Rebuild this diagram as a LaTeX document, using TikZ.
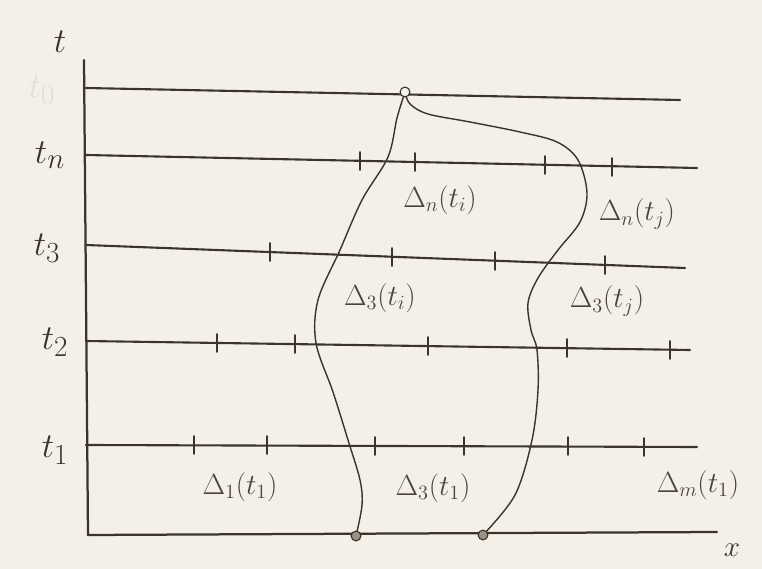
\documentclass[tikz,border=0pt]{standalone}
\usepackage{amsmath,amssymb}
\usetikzlibrary{arrows.meta,calc}
\definecolor{SketchPaper}{HTML}{F4F0E7}
\definecolor{SketchInk}{HTML}{3A342C}
\definecolor{SketchPencil}{HTML}{4A443B}
\definecolor{SketchErased}{HTML}{E4DFD5}
\definecolor{SketchDot}{HTML}{9A9285}
\tikzset{
    sketch/diagram/.style={
        draw=SketchInk,
        text=SketchInk,
        line cap=round,
        line join=round,
        every node/.style={inner sep=1pt, outer sep=0pt}
    },
    sketch/axis/.style={draw=SketchInk, line width=1.6pt},
    sketch/level/.style={draw=SketchInk, line width=1.5pt},
    sketch/tick/.style={draw=SketchInk, line width=1.3pt},
    sketch/curve/.style={draw=SketchInk, line width=1pt},
    sketch/point/.style={circle, fill=SketchPaper, draw=SketchInk,
        line width=0.8pt, inner sep=0pt, minimum size=7pt},
    sketch/timelabel/.style={font=\Huge, text=SketchInk},
    sketch/cell/.style={font=\huge, text=SketchPencil}
}

\begin{document}
\begin{tikzpicture}[sketch/diagram, x=0.025cm, y=-0.025cm]
    \fill[SketchPaper] (0,0) rectangle (762,569);
    \useasboundingbox (0,0) rectangle (762,569);

    % axes
    \draw[sketch/axis] (84,60) -- (88,535);
    \draw[sketch/axis] (88,535) -- (717,532);
    \node[sketch/timelabel] (lab-t) at (60,42) {$t$};
    \node[font=\huge] (lab-x) at (732,550) {$x$};

    % time levels
    \draw[sketch/level] (86,88) -- (680,100);
    \draw[sketch/level] (86,155) -- (697,168);
    \draw[sketch/level] (86,245) -- (685,268);
    \draw[sketch/level] (86,341) -- (690,350);
    \draw[sketch/level] (86,445) -- (697,447);
    \node[sketch/timelabel, text=SketchErased] (lab-t0) at (42,90) {$t_0$};
    \node[sketch/timelabel] (lab-tn) at (50,155) {$t_n$};
    \node[sketch/timelabel] (lab-t3) at (47,248) {$t_3$};
    \node[sketch/timelabel] (lab-t2) at (55,342) {$t_2$};
    \node[sketch/timelabel] (lab-t1) at (55,450) {$t_1$};

    % cell boundaries
    \foreach \x/\y in {360/161, 415/162, 545/165, 612/167,
                       270/252, 392/257, 495/261, 605/265,
                       217/343, 295/344, 428/346, 567/348, 670/350,
                       194/445, 267/445, 375/446, 464/446, 568/446, 644/447}
        \draw[sketch/tick] (\x,{\y-9}) -- (\x,{\y+9});

    % cells
    \node[sketch/cell] (cell-ni) at (440,200) {$\Delta_n(t_i)$};
    \node[sketch/cell] (cell-nj) at (637,214) {$\Delta_n(t_j)$};
    \node[sketch/cell] (cell-3i) at (380,298) {$\Delta_3(t_i)$};
    \node[sketch/cell] (cell-3j) at (607,301) {$\Delta_3(t_j)$};
    \node[sketch/cell] (cell-11) at (240,487) {$\Delta_1(t_1)$};
    \node[sketch/cell] (cell-31) at (433,488) {$\Delta_3(t_1)$};
    \node[sketch/cell] (cell-m1) at (698,485) {$\Delta_m(t_1)$};

    % characteristic curves
    \coordinate (apex) at (405,92);
    \coordinate (footL) at (356,536);
    \coordinate (footR) at (483,535);
    \draw[sketch/curve] plot[smooth, tension=0.55] coordinates {
        (apex) (397,118) (388,157) (362,200) (340,250) (318,300)
        (316,343) (333,392) (348,440) (360,480) (362,505) (footL)};
    \draw[sketch/curve] plot[smooth, tension=0.55] coordinates {
        (apex) (410,104) (428,114) (470,122) (520,132) (557,142)
        (578,160) (587,193) (580,222) (558,250) (538,278) (528,303)
        (531,330) (537,350) (538,390) (532,440) (515,495) (footR)};
    \node[sketch/point] (apex-dot) at (apex) {};
    \node[sketch/point, fill=SketchDot] (footL-dot) at (footL) {};
    \node[sketch/point, fill=SketchDot] (footR-dot) at (footR) {};
\end{tikzpicture}
\end{document}
